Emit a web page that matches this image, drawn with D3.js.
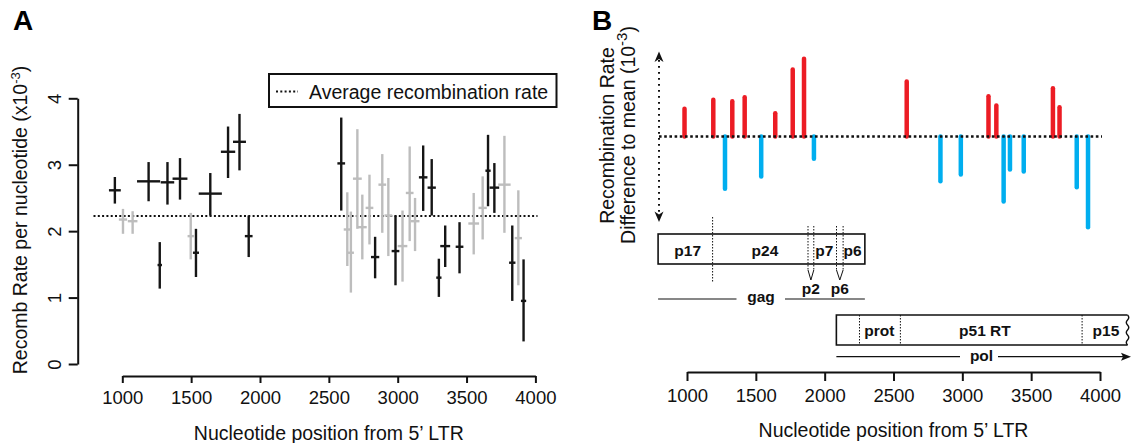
<!DOCTYPE html>
<html>
<head>
<meta charset="utf-8">
<script src="https://cdn.jsdelivr.net/npm/d3@7"></script>
<style>
body { margin: 0; background: #fff; }
svg { font-family: "Liberation Sans", Arial, Helvetica, sans-serif; }
</style>
</head>
<body>
<svg width="1133" height="443"></svg>
<script>
// panel A: windows above/below mean (black) and not significant (grey)
// position, half window width (nt), rate, lower, upper
var blackPos  = [946, 1191, 1272, 1328, 1419, 1535, 1639, 1768, 1851, 1918, 2590, 2836, 2984, 3185, 3247, 3299, 3345, 3449, 3656, 3702, 3832, 3914];
var blackHalf = [43, 84, 16, 49, 54, 22, 84, 52, 47, 28, 28, 30, 28, 31, 30, 19, 36, 28, 19, 35, 23, 19];
var blackRate = [2.615, 2.75, 1.49, 2.735, 2.79, 1.675, 2.565, 3.195, 3.345, 1.925, 3.02, 1.61, 1.70, 2.81, 2.655, 1.30, 1.775, 1.765, 2.91, 2.655, 1.525, 0.95];
var blackLow  = [2.415, 2.45, 1.135, 2.40, 2.475, 1.31, 2.235, 2.80, 2.915, 1.61, 2.31, 1.29, 1.185, 2.305, 2.235, 1.01, 1.46, 1.365, 2.375, 2.275, 0.95, 0.34];
var blackHigh = [2.815, 3.04, 1.835, 3.04, 3.10, 2.035, 2.875, 3.575, 3.765, 2.235, 3.71, 1.915, 2.235, 3.29, 3.085, 1.585, 2.085, 2.135, 3.45, 3.025, 2.085, 1.575];

var greyPos  = [1005, 1075, 1497, 2634, 2660, 2707, 2743, 2795, 2888, 2932, 3035, 3087, 3126, 3552, 3617, 3775, 3876];
var greyHalf = [30, 35, 23, 26, 22, 32, 32, 28, 28, 28, 35, 28, 32, 39, 30, 45, 26];
var greyRate = [2.175, 2.15, 1.925, 2.025, 1.675, 2.79, 2.06, 2.35, 2.70, 2.235, 1.775, 2.575, 2.15, 2.115, 2.35, 2.70, 1.895];
var greyLow  = [1.96, 1.96, 1.575, 1.475, 1.075, 2.035, 1.575, 1.80, 1.975, 1.625, 1.24, 1.85, 1.70, 1.65, 1.875, 1.975, 1.185];
var greyHigh = [2.335, 2.30, 2.275, 2.585, 2.295, 3.535, 2.55, 2.85, 3.16, 2.80, 2.31, 3.275, 2.50, 2.575, 2.825, 3.435, 2.615];

var meanRate = 2.228;
var xTicks = [1000, 1500, 2000, 2500, 3000, 3500, 4000];
var yTicksA = [0, 1, 2, 3, 4];

// panel B: difference to mean
var diffPos = [982, 1191, 1276, 1329, 1419, 1539, 1641, 1768, 1850, 1922, 2596, 2841, 2989, 3190, 3247, 3300, 3346, 3446, 3658, 3706, 3831, 3913];
var diffVal = [0.39, 0.516, -0.737, 0.498, 0.554, -0.563, 0.329, 0.944, 1.094, -0.315, 0.775, -0.629, -0.535, 0.568, 0.437, -0.915, -0.465, -0.493, 0.681, 0.413, -0.714, -1.277];

// genome map (HXB2 positions)
var gagRange = [790, 2292];
var gagCuts = [1186, 1879, 1921, 2086, 2134];
var gagNames = ["p17", "p24", "p7", "p6"];
var gagLabelPos = [1005, 1566, 1997, 2203];
var polRange = [2085, 4200];
var polCuts = [2253, 2550, 3870];
var polNames = ["prot", "p51 RT", "p15"];
var polLabelPos = [2397, 3164, 4043];

var ink = "#111";
var svg = d3.select("svg");
var intFmt = d3.format("d");

// ---------- panel A ----------
var xA = d3.scaleLinear().domain([1000, 4000]).range([122.3, 535.4]);
var yA = d3.scaleLinear().domain([0, 4]).range([364, 98.3]);

var gA = svg.append("g");

var axA = gA.append("g").attr("transform", "translate(0,376)")
    .call(d3.axisBottom(xA).tickValues(xTicks).tickFormat(intFmt).tickSize(7).tickSizeOuter(0).tickPadding(8));
var ayA = gA.append("g").attr("transform", "translate(77.7,0)")
    .call(d3.axisLeft(yA).tickValues(yTicksA).tickFormat(intFmt).tickSize(9).tickSizeOuter(0));
ayA.selectAll(".tick text")
    .attr("transform", "rotate(-90)")
    .attr("x", 0).attr("y", -17).attr("dy", 0)
    .attr("text-anchor", "middle");

[axA, ayA].forEach(function (a) {
    a.select(".domain").attr("stroke", ink).attr("stroke-width", 2);
    a.selectAll(".tick line").attr("stroke", ink).attr("stroke-width", 2);
    a.selectAll(".tick text").attr("fill", ink).attr("font-size", 18.5).attr("font-family", null);
});

gA.append("line")
    .attr("x1", 93.5).attr("x2", 537.5)
    .attr("y1", yA(meanRate)).attr("y2", yA(meanRate))
    .attr("stroke", ink).attr("stroke-width", 2).attr("stroke-dasharray", "2,2.3");

function crosses(pos, half, rate, low, high, colour) {
    var d = pos.map(function (p, i) {
        return {x: p, h: half[i], y: rate[i], lo: low[i], hi: high[i]};
    });
    var g = gA.append("g").attr("stroke", colour).attr("stroke-width", 2.4);
    g.selectAll("line.v").data(d).enter().append("line")
        .attr("x1", function (d) { return xA(d.x); })
        .attr("x2", function (d) { return xA(d.x); })
        .attr("y1", function (d) { return yA(d.lo); })
        .attr("y2", function (d) { return yA(d.hi); });
    g.selectAll("line.h").data(d).enter().append("line")
        .attr("x1", function (d) { return xA(d.x - d.h); })
        .attr("x2", function (d) { return xA(d.x + d.h); })
        .attr("y1", function (d) { return yA(d.y); })
        .attr("y2", function (d) { return yA(d.y); });
}
crosses(greyPos, greyHalf, greyRate, greyLow, greyHigh, "#bdbdbd");
crosses(blackPos, blackHalf, blackRate, blackLow, blackHigh, "#151515");

// legend
gA.append("rect").attr("x", 269).attr("y", 74).attr("width", 287.5).attr("height", 33)
    .attr("fill", "#fff").attr("stroke", ink).attr("stroke-width", 2);
gA.append("line").attr("x1", 276).attr("x2", 298).attr("y1", 91.5).attr("y2", 91.5)
    .attr("stroke", ink).attr("stroke-width", 2).attr("stroke-dasharray", "2,2.3");
gA.append("text").attr("x", 309).attr("y", 98.5).attr("font-size", 19.5).attr("fill", ink)
    .text("Average recombination rate");

gA.append("text").attr("x", 328.8).attr("y", 440).attr("text-anchor", "middle")
    .attr("font-size", 19.5).attr("fill", ink).text("Nucleotide position from 5\u2019 LTR");

var yl = gA.append("text").attr("transform", "translate(27,220) rotate(-90)")
    .attr("text-anchor", "middle").attr("font-size", 19.5).attr("fill", ink);
yl.append("tspan").text("Recomb Rate per nucleotide (x10");
yl.append("tspan").attr("dy", -7).attr("font-size", 13).text("-3");
yl.append("tspan").attr("dy", 7).text(")");

gA.append("text").attr("x", 13).attr("y", 30).attr("font-size", 28).attr("font-weight", "bold")
    .attr("fill", "#000").text("A");

// ---------- panel B ----------
var xB = d3.scaleLinear().domain([1000, 4000]).range([687, 1100]);
var yB = d3.scaleLinear().domain([0, 1]).range([136.5, 65.5]);
var gB = svg.append("g");

gB.append("text").attr("x", 592).attr("y", 30).attr("font-size", 28).attr("font-weight", "bold")
    .attr("fill", "#000").text("B");

gB.append("text").attr("transform", "translate(613.5,135.5) rotate(-90)")
    .attr("text-anchor", "middle").attr("font-size", 19.5).attr("fill", ink)
    .text("Recombination Rate");
var l2 = gB.append("text").attr("transform", "translate(635,135) rotate(-90)")
    .attr("text-anchor", "middle").attr("font-size", 19.5).attr("fill", ink);
l2.append("tspan").text("Difference to mean (10");
l2.append("tspan").attr("dy", -8).attr("font-size", 15).text("-3");
l2.append("tspan").attr("dy", 8).text(")");

// dotted double arrow
gB.append("line").attr("x1", 659).attr("x2", 659).attr("y1", 60).attr("y2", 214)
    .attr("stroke", ink).attr("stroke-width", 2).attr("stroke-dasharray", "1.8,4.2");
gB.append("path").attr("d", "M659,51.5 L654.5,62 L659,59 L663.5,62 Z").attr("fill", ink);
gB.append("path").attr("d", "M659,222 L654.5,211.5 L659,214.5 L663.5,211.5 Z").attr("fill", ink);

var bars = diffPos.map(function (p, i) { return {x: p, v: diffVal[i]}; });
gB.selectAll("line.bar").data(bars).enter().append("line")
    .attr("class", "bar")
    .attr("x1", function (d) { return xB(d.x); })
    .attr("x2", function (d) { return xB(d.x); })
    .attr("y1", yB(0))
    .attr("y2", function (d) { return yB(d.v); })
    .attr("stroke", function (d) { return d.v > 0 ? "#ec1c24" : "#00aeef"; })
    .attr("stroke-width", 4.5)
    .attr("stroke-linecap", "round");

gB.append("line").attr("x1", 659).attr("x2", 1102).attr("y1", yB(0)).attr("y2", yB(0))
    .attr("stroke", ink).attr("stroke-width", 2.6).attr("stroke-dasharray", "2.6,2.6");

// gag box
var gagTop = 234, gagBot = 264;
gB.append("rect").attr("x", xB(gagRange[0])).attr("y", gagTop)
    .attr("width", xB(gagRange[1]) - xB(gagRange[0])).attr("height", gagBot - gagTop)
    .attr("fill", "none").attr("stroke", ink).attr("stroke-width", 1.6);
var dot = "1.5,1.5";
// p17/p24 boundary, longer
gB.append("line").attr("x1", xB(gagCuts[0])).attr("x2", xB(gagCuts[0])).attr("y1", 217).attr("y2", 282)
    .attr("stroke", ink).attr("stroke-width", 1).attr("stroke-dasharray", dot);
[[gagCuts[1], gagCuts[2]], [gagCuts[3], gagCuts[4]]].forEach(function (pair) {
    var a = xB(pair[0]), b = xB(pair[1]), m = (a + b) / 2;
    pair.forEach(function (c) {
        gB.append("line").attr("x1", xB(c)).attr("x2", xB(c)).attr("y1", 226).attr("y2", 270)
            .attr("stroke", ink).attr("stroke-width", 1).attr("stroke-dasharray", dot);
    });
    gB.append("path").attr("d", "M" + a + ",270 L" + m + ",280 L" + b + ",270")
        .attr("fill", "none").attr("stroke", ink).attr("stroke-width", 1);
});
gB.selectAll("text.gag").data(gagNames).enter().append("text")
    .attr("x", function (d, i) { return xB(gagLabelPos[i]); })
    .attr("y", 255.5).attr("text-anchor", "middle")
    .attr("font-size", 15.5).attr("font-weight", "bold").attr("fill", ink)
    .text(function (d) { return d; });
gB.append("text").attr("x", (xB(gagCuts[1]) + xB(gagCuts[2])) / 2).attr("y", 294)
    .attr("text-anchor", "middle").attr("font-size", 15.5).attr("font-weight", "bold").attr("fill", ink).text("p2");
gB.append("text").attr("x", (xB(gagCuts[3]) + xB(gagCuts[4])) / 2).attr("y", 294)
    .attr("text-anchor", "middle").attr("font-size", 15.5).attr("font-weight", "bold").attr("fill", ink).text("p6");

// gag line
gB.append("line").attr("x1", xB(gagRange[0])).attr("x2", 736.5).attr("y1", 299).attr("y2", 299)
    .attr("stroke", ink).attr("stroke-width", 1.2);
gB.append("line").attr("x1", 785).attr("x2", xB(gagRange[1])).attr("y1", 299).attr("y2", 299)
    .attr("stroke", ink).attr("stroke-width", 1.2);
gB.append("text").attr("x", 761).attr("y", 302).attr("text-anchor", "middle")
    .attr("font-size", 15.5).attr("font-weight", "bold").attr("fill", ink).text("gag");

// pol box, truncated at the right
var polTop = 315, polBot = 345, px0 = xB(polRange[0]), px1 = xB(polRange[1]);
gB.append("path")
    .attr("d", "M" + px1 + "," + polTop + " L" + px0 + "," + polTop + " L" + px0 + "," + polBot + " L" + px1 + "," + polBot)
    .attr("fill", "none").attr("stroke", ink).attr("stroke-width", 1.6);
var wave = "M" + px1 + "," + polTop;
for (var k = 0; k < 6; k++) {
    var y0 = polTop + k * 5;
    wave += " Q" + (px1 + (k % 2 ? -2.5 : 2.5)) + "," + (y0 + 2.5) + " " + px1 + "," + (y0 + 5);
}
gB.append("path").attr("d", wave).attr("fill", "none").attr("stroke", ink).attr("stroke-width", 1.4);
polCuts.forEach(function (c) {
    gB.append("line").attr("x1", xB(c)).attr("x2", xB(c)).attr("y1", polTop).attr("y2", polBot)
        .attr("stroke", ink).attr("stroke-width", 1).attr("stroke-dasharray", dot);
});
gB.selectAll("text.pol").data(polNames).enter().append("text")
    .attr("x", function (d, i) { return xB(polLabelPos[i]); })
    .attr("y", 335.5).attr("text-anchor", "middle")
    .attr("font-size", 15.5).attr("font-weight", "bold").attr("fill", ink)
    .text(function (d) { return d; });

// pol arrow
gB.append("line").attr("x1", px0).attr("x2", 960).attr("y1", 356.7).attr("y2", 356.7)
    .attr("stroke", ink).attr("stroke-width", 1.2);
gB.append("line").attr("x1", 998).attr("x2", 1124).attr("y1", 356.7).attr("y2", 356.7)
    .attr("stroke", ink).attr("stroke-width", 1.2);
gB.append("path").attr("d", "M1131,356.7 L1121,352.7 L1123,356.7 L1121,360.7 Z").attr("fill", ink);
gB.append("text").attr("x", 981.5).attr("y", 361).attr("text-anchor", "middle")
    .attr("font-size", 15.5).attr("font-weight", "bold").attr("fill", ink).text("pol");

// axis B
var axB = gB.append("g").attr("transform", "translate(0,372)")
    .call(d3.axisBottom(xB).tickValues(xTicks).tickFormat(intFmt).tickSize(9).tickSizeOuter(0).tickPadding(8));
axB.select(".domain").attr("stroke", ink).attr("stroke-width", 2);
axB.selectAll(".tick line").attr("stroke", ink).attr("stroke-width", 2);
axB.selectAll(".tick text").attr("fill", ink).attr("font-size", 18.5).attr("font-family", null);

gB.append("text").attr("x", 893.5).attr("y", 437).attr("text-anchor", "middle")
    .attr("font-size", 19.5).attr("fill", ink).text("Nucleotide position from 5\u2019 LTR");
</script>
</body>
</html>
